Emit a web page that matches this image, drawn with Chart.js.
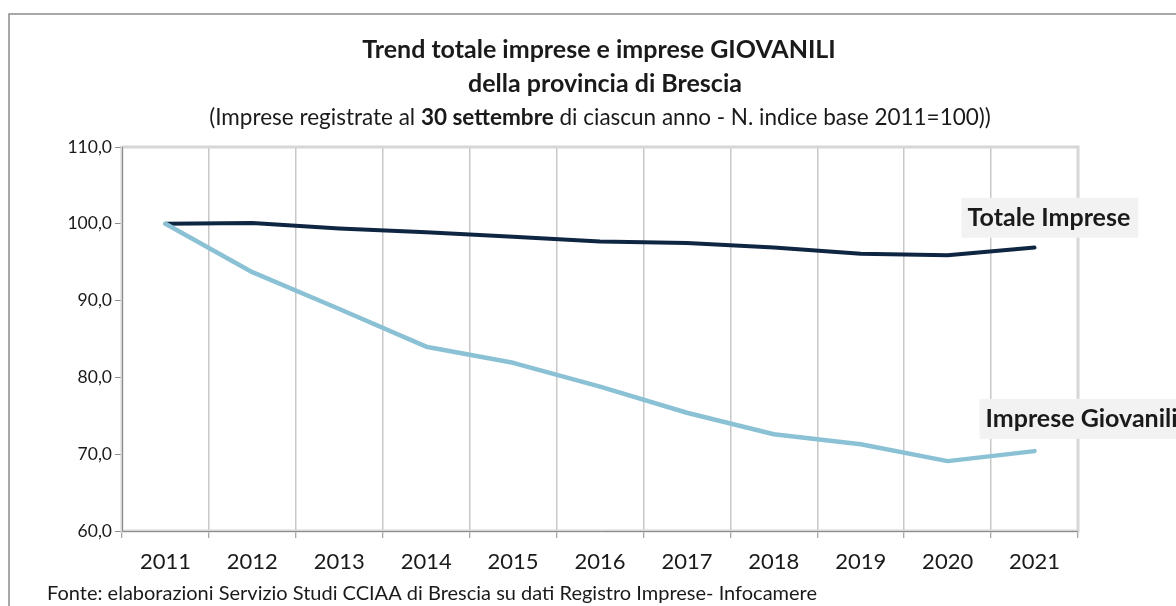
<!DOCTYPE html>
<html>
<head>
<meta charset="utf-8">
<script src="https://cdn.jsdelivr.net/npm/chart.js@4.4.1/dist/chart.umd.min.js"></script>
<style>
    html, body { margin: 0; padding: 0; background: #ffffff; }
    #wrap { width: 1176px; height: 606px; overflow: hidden; }
</style>
</head>
<body>
<div id="wrap">
    <canvas id="trendChart" width="1176" height="606"></canvas>
</div>
<script>

// dati
const years = ['2011', '2012', '2013', '2014', '2015', '2016', '2017', '2018', '2019', '2020', '2021'];
const totaleImprese = [100.0, 100.1, 99.4, 98.9, 98.3, 97.7, 97.5, 96.9, 96.1, 95.9, 96.9];
const impreseGiovanili = [100.0, 93.7, 88.9, 84.0, 81.9, 78.8, 75.4, 72.6, 71.3, 69.1, 70.4];
const yTicks = [60, 70, 80, 90, 100, 110];

const titleLine1 = 'Trend totale imprese e imprese GIOVANILI';
const titleLine2 = 'della provincia di Brescia';
const subtitleParts = [
    { text: '(Imprese registrate al ', bold: false },
    { text: '30 settembre', bold: true },
    { text: ' di ciascun anno - N. indice base 2011=100))', bold: false }
];
const footerText = 'Fonte: elaborazioni Servizio Studi CCIAA di Brescia su dati Registro Imprese- Infocamere';

const FONT = 'Lato, "Open Sans", sans-serif';
const TEXT_COLOR = '#1a1a1a';

// titoli, cornice, etichette serie
const decorPlugin = {
    id: 'decor',

    beforeDatasetsDraw(chart) {
        const { ctx, chartArea } = chart;
        ctx.save();

        // bordo area grafico (grigio chiaro)
        ctx.strokeStyle = '#d6d6d6';
        ctx.lineWidth = 3;
        ctx.strokeRect(chartArea.left, chartArea.top, chartArea.right - chartArea.left, chartArea.bottom - chartArea.top);

        // assi scuri
        ctx.strokeStyle = '#8c8c8c';
        ctx.lineWidth = 1;
        ctx.beginPath();
        ctx.moveTo(chartArea.left + 0.5, chartArea.top);
        ctx.lineTo(chartArea.left + 0.5, chartArea.bottom + 0.5);
        ctx.lineTo(chartArea.right, chartArea.bottom + 0.5);
        ctx.stroke();

        ctx.restore();
    },

    afterDraw(chart) {
        const { ctx, scales } = chart;
        const cx = 600;
        ctx.save();

        // cornice esterna
        ctx.strokeStyle = '#8c8c8c';
        ctx.lineWidth = 1.5;
        ctx.beginPath();
        ctx.moveTo(9, 606);
        ctx.lineTo(9, 14);
        ctx.lineTo(1176, 14);
        ctx.stroke();

        ctx.fillStyle = TEXT_COLOR;
        ctx.textBaseline = 'middle';
        ctx.textAlign = 'center';

        ctx.font = 'bold 25px ' + FONT;
        ctx.fillText(titleLine1, cx - 1, 50);
        ctx.fillText(titleLine2, cx + 5, 84);

        // sottotitolo con parte in grassetto
        ctx.textAlign = 'left';
        let total = 0;
        subtitleParts.forEach(p => {
            ctx.font = (p.bold ? 'bold ' : '') + '22.5px ' + FONT;
            p.w = ctx.measureText(p.text).width;
            total += p.w;
        });
        let x = cx - total / 2;
        subtitleParts.forEach(p => {
            ctx.font = (p.bold ? 'bold ' : '') + '22.5px ' + FONT;
            ctx.fillText(p.text, x, 118);
            x += p.w;
        });

        // fonte
        ctx.font = '20px ' + FONT;
        ctx.fillText(footerText, 47, 594);

        // etichette serie
        const xLast = scales.x.getPixelForValue(years.length - 1);
        const labels = [
            { text: 'Totale Imprese', left: xLast - 73, y: scales.y.getPixelForValue(100) - 6 },
            { text: 'Imprese Giovanili', left: xLast - 55, y: scales.y.getPixelForValue(74.6) }
        ];
        ctx.font = 'bold 25px ' + FONT;
        labels.forEach(l => {
            const w = ctx.measureText(l.text).width;
            ctx.fillStyle = '#f2f2f2';
            ctx.fillRect(l.left, l.y - 20, w + 14, 40);
            ctx.fillStyle = TEXT_COLOR;
            ctx.fillText(l.text, l.left + 6, l.y);
        });

        ctx.restore();
    }
};

const ctx = document.getElementById('trendChart');

new Chart(ctx, {

    type: 'line',

    data: {
        labels: years,

        datasets: [
            {
                label: 'Imprese Giovanili',
                data: impreseGiovanili,
                borderColor: '#8bc1d5',
                backgroundColor: '#8bc1d5',
                borderWidth: 4.5,
                tension: 0,
                pointRadius: 0,
                borderCapStyle: 'round',
                borderJoinStyle: 'round'
            },
            {
                label: 'Totale Imprese',
                data: totaleImprese,
                borderColor: '#0e2642',
                backgroundColor: '#0e2642',
                borderWidth: 4,
                tension: 0,
                pointRadius: 0,
                borderCapStyle: 'round',
                borderJoinStyle: 'round'
            }
        ]
    },

    options: {

        responsive: false,
        devicePixelRatio: 1,
        animation: false,

        layout: {
            padding: {
                top: 147,
                right: 98,
                left: 0,
                bottom: 0
            }
        },

        plugins: {
            legend: { display: false },
            title: { display: false },
            tooltip: { enabled: false }
        },

        scales: {

            x: {
                type: 'category',
                offset: true,
                afterFit(scale) {
                    scale.height = 75;
                },
                grid: {
                    offset: true,
                    color: '#c8c8c8',
                    lineWidth: 1.5,
                    drawTicks: true,
                    tickLength: 7,
                    tickColor: '#8c8c8c',
                    tickWidth: 1
                },
                border: {
                    display: false
                },
                ticks: {
                    color: TEXT_COLOR,
                    padding: 11,
                    maxRotation: 0,
                    font: { family: FONT, size: 22 }
                }
            },

            y: {
                min: yTicks[0],
                max: yTicks[yTicks.length - 1],
                afterFit(scale) {
                    scale.width = 122;
                },
                afterBuildTicks(scale) {
                    scale.ticks = yTicks.map(v => ({ value: v }));
                },
                grid: {
                    drawOnChartArea: false,
                    drawTicks: true,
                    tickLength: 7,
                    color: '#8c8c8c'
                },
                border: {
                    display: false
                },
                ticks: {
                    color: TEXT_COLOR,
                    padding: 3,
                    font: { family: FONT, size: 17.5 },
                    callback: v => v.toFixed(1).replace('.', ',')
                }
            }
        }
    },

    plugins: [decorPlugin]
});

</script>
</body>
</html>
